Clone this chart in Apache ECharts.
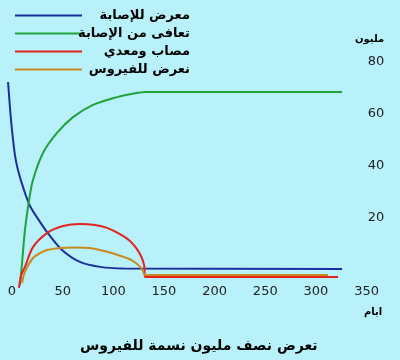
<!DOCTYPE html>
<html><head><meta charset="utf-8">
<script src="https://cdn.jsdelivr.net/npm/echarts@6/dist/echarts.min.js"></script>
<style>html,body{margin:0;padding:0;background:#b9f1fb}#c{width:400px;height:360px}</style>
</head><body><div id="c"></div>
<script>
const seriesNames = ['معرض للإصابة', 'تعافى من الإصابة', 'مصاب ومعدي', 'نعرض للفيروس'];
const titleText = 'تعرض نصف مليون نسمة للفيروس';
const yAxisName = 'مليون';
const xAxisName = 'ايام';
const xTicks = [0, 50, 100, 150, 200, 250, 300, 350];
const yTicks = [20, 40, 60, 80];
// [day, million]
const susceptible = [[-3.9,72.3],[-1.5,60],[0.5,52],[3,44],[5.9,38.5],[11.8,30.8],[17.8,24.6],[27.6,18.5],[34.6,14.6],[49.4,7.7],[67.1,3.1],[86.9,1.2],[110,0.6],[325.8,0.4]];
const recovered = [[7.9,-5.8],[9.9,2.7],[12.8,15.4],[16.5,26],[20.7,34.6],[30.6,45],[44.4,52.7],[60.2,58.8],[80,63.5],[103.7,66.5],[120,67.9],[132,68.5],[325.8,68.5]];
const infected = [[6.9,-6.9],[9,-2],[12.8,1.2],[20.7,8.8],[34.6,14.2],[50.3,16.9],[67.1,17.7],[82,17.3],[93.8,16.2],[106.6,13.8],[116.5,11.2],[123,8.2],[128,4.8],[130.6,1.5],[131.3,-2.7],[321.8,-2.7]];
const exposed = [[9.9,-5],[12,-1.5],[14.5,0.8],[20.7,4.6],[27.6,6.5],[34.6,7.7],[47.4,8.5],[62,8.7],[77,8.5],[93.8,7.0],[106.6,5.5],[118,3.8],[126.4,1.3],[129.3,-0.4],[131.3,-1.9],[311.9,-1.9]];
const colors = ['#1b2f9c', '#1ea33a', '#e2231f', '#c8891e'];

const chart = echarts.init(document.getElementById('c'), null, {renderer: 'canvas'});
const ff = 'DejaVu Sans';
function mk(name, data, color) {
  return {name, type: 'line', data, symbol: 'none', smooth: 0.3,
    lineStyle: {color, width: 2}, itemStyle: {color}, z: 2};
}
chart.setOption({
  backgroundColor: '#b9f1fb',
  animation: false,
  color: colors,
  title: [
    {text: titleText, left: 75, top: 334, textStyle: {fontFamily: ff, fontSize: 14, fontWeight: 'bold', color: '#000'}},
    {text: yAxisName, left: 350, top: 29, textStyle: {fontFamily: ff, fontSize: 10, fontWeight: 'bold', color: '#000'}},
    {text: xAxisName, left: 359, top: 302, textStyle: {fontFamily: ff, fontSize: 10, fontWeight: 'bold', color: '#000'}}
  ],
  legend: {
    orient: 'vertical', left: 10, top: 4, itemWidth: 67, itemHeight: 2, itemGap: 5,
    icon: 'rect',
    data: seriesNames,
    formatter: n => '{a|' + n + '}',
    textStyle: {fontFamily: ff, fontSize: 13, color: '#000',
      rich: {a: {width: 103, align: 'right', fontFamily: ff, fontSize: 13, fontWeight: 'bold', color: '#000'}}}
  },
  grid: {left: 1.87, right: 23.3, top: 36, bottom: 64, containLabel: false},
  xAxis: {
    type: 'value', min: -10, max: 360, offset: -19,
    axisLine: {show: false, onZero: false}, axisTick: {show: false}, splitLine: {show: false},
    axisLabel: {customValues: xTicks, margin: 8, fontFamily: ff, fontSize: 13, color: '#222'}
  },
  yAxis: {
    type: 'value', min: -10, max: 90, position: 'right', offset: -10,
    axisLine: {show: false}, axisTick: {show: false}, splitLine: {show: false},
    axisLabel: {customValues: yTicks, margin: 1, fontFamily: ff, fontSize: 13, color: '#222'}
  },
  series: [
    mk(seriesNames[0], susceptible, colors[0]),
    mk(seriesNames[1], recovered, colors[1]),
    mk(seriesNames[2], infected, colors[2]),
    mk(seriesNames[3], exposed, colors[3])
  ]
});
</script></body></html>
